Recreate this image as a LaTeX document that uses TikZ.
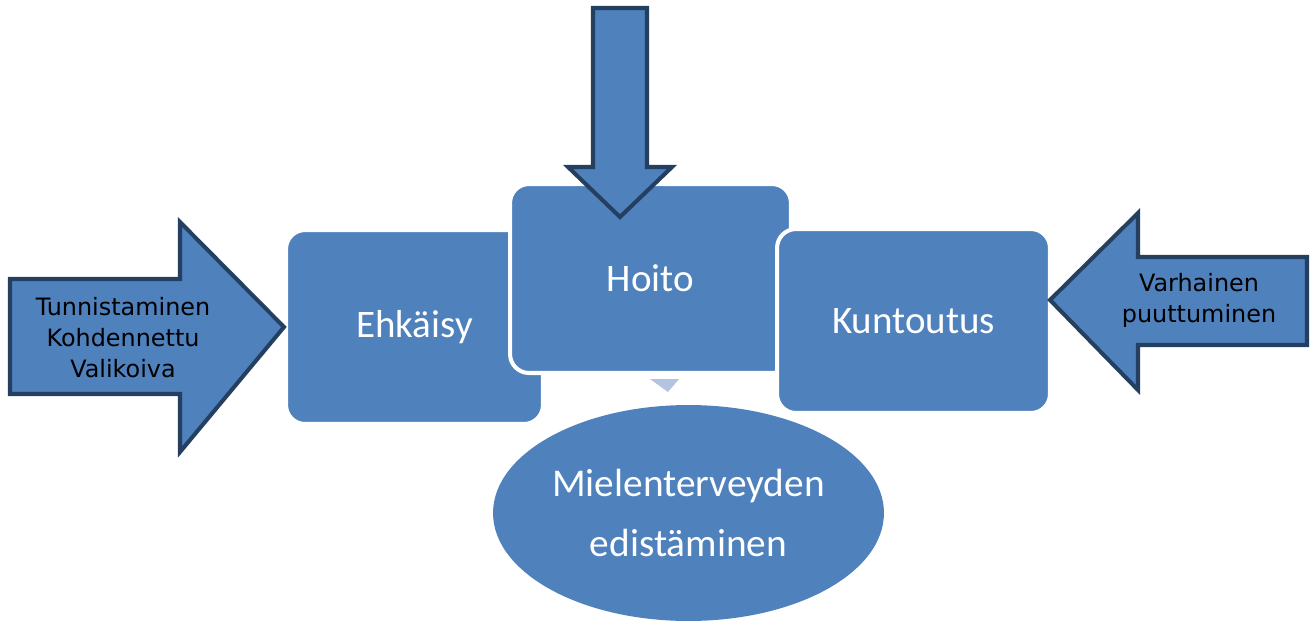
\documentclass[tikz,border=0pt]{standalone}
\usepackage{fontspec}
\usetikzlibrary{shapes.geometric}
\usetikzlibrary{positioning}
\newfontfamily\boxfont{Carlito}
\newfontfamily\arrowfont{DejaVu Sans}
\definecolor{boxblue}{RGB}{79,129,189}
\definecolor{edgeblue}{RGB}{36,63,96}
\definecolor{paleblue}{RGB}{179,195,224}

\tikzset{
  phase/.style={rectangle, rounded corners=0.38cm, fill=boxblue, draw=white,
    line width=2.3pt, text=white, inner sep=0pt,
    font=\boxfont\fontsize{22.2}{26}\selectfont},
  goal/.style={ellipse, fill=boxblue, draw=none, text=white, inner sep=0pt,
    align=center, font=\boxfont\fontsize{22.4}{34}\selectfont},
  blockarrow/.style={fill=boxblue, draw=edgeblue, line width=2.3pt, line join=miter},
  arrowtext/.style={align=center, text=black, inner sep=0pt,
    font=\arrowfont\fontsize{13.6}{17.6}\selectfont}
}

\begin{document}
\begin{tikzpicture}[x=0.02cm, y=-0.02cm]

\useasboundingbox (0,0) rectangle (1312,623);

%---------------------------------------
% Phases
%---------------------------------------
\node[phase, minimum width=5.14cm, minimum height=3.88cm] (ehkaisy) at (414.5,327) {Ehkäisy};
\node[phase, minimum width=5.62cm, minimum height=3.78cm] (hoito) at (650.5,278.5) {Hoito};
\node[phase, minimum width=5.46cm, minimum height=3.68cm] (kuntoutus) at (913.5,321) {Kuntoutus};

% small pointer under Hoito
\fill[paleblue] (650,379) -- (679,379) -- (668,392) -- cycle;

%---------------------------------------
% Goal
%---------------------------------------
\node[goal, minimum width=7.82cm, minimum height=4.32cm] (edist) at (688.5,513)
  {Mielenterveyden\\edistäminen};

%---------------------------------------
% Block arrows
%---------------------------------------
% left, into Ehkaisy
\draw[blockarrow] (10,279) -- (180,279) -- (180,222) -- (ehkaisy.west)
  -- (180,452) -- (180,394) -- (10,394) -- cycle;
\node[arrowtext] (tunn) at (123,338) {Tunnistaminen\\Kohdennettu\\Valikoiva};

% right, into Kuntoutus
\coordinate (ktip) at (1050,300);
\draw[blockarrow] (1307,257) -- (1138,257) -- (1138,213) -- (ktip)
  -- (1138,390) -- (1138,345) -- (1307,345) -- cycle;
\node[arrowtext] (varh) at (1199,300) {Varhainen\\puuttuminen};

% down, into Hoito
\draw[blockarrow] (593,8) -- (647,8) -- (647,167) -- (672,167) -- (620,217)
  -- (568,167) -- (593,167) -- cycle;

\end{tikzpicture}
\end{document}
